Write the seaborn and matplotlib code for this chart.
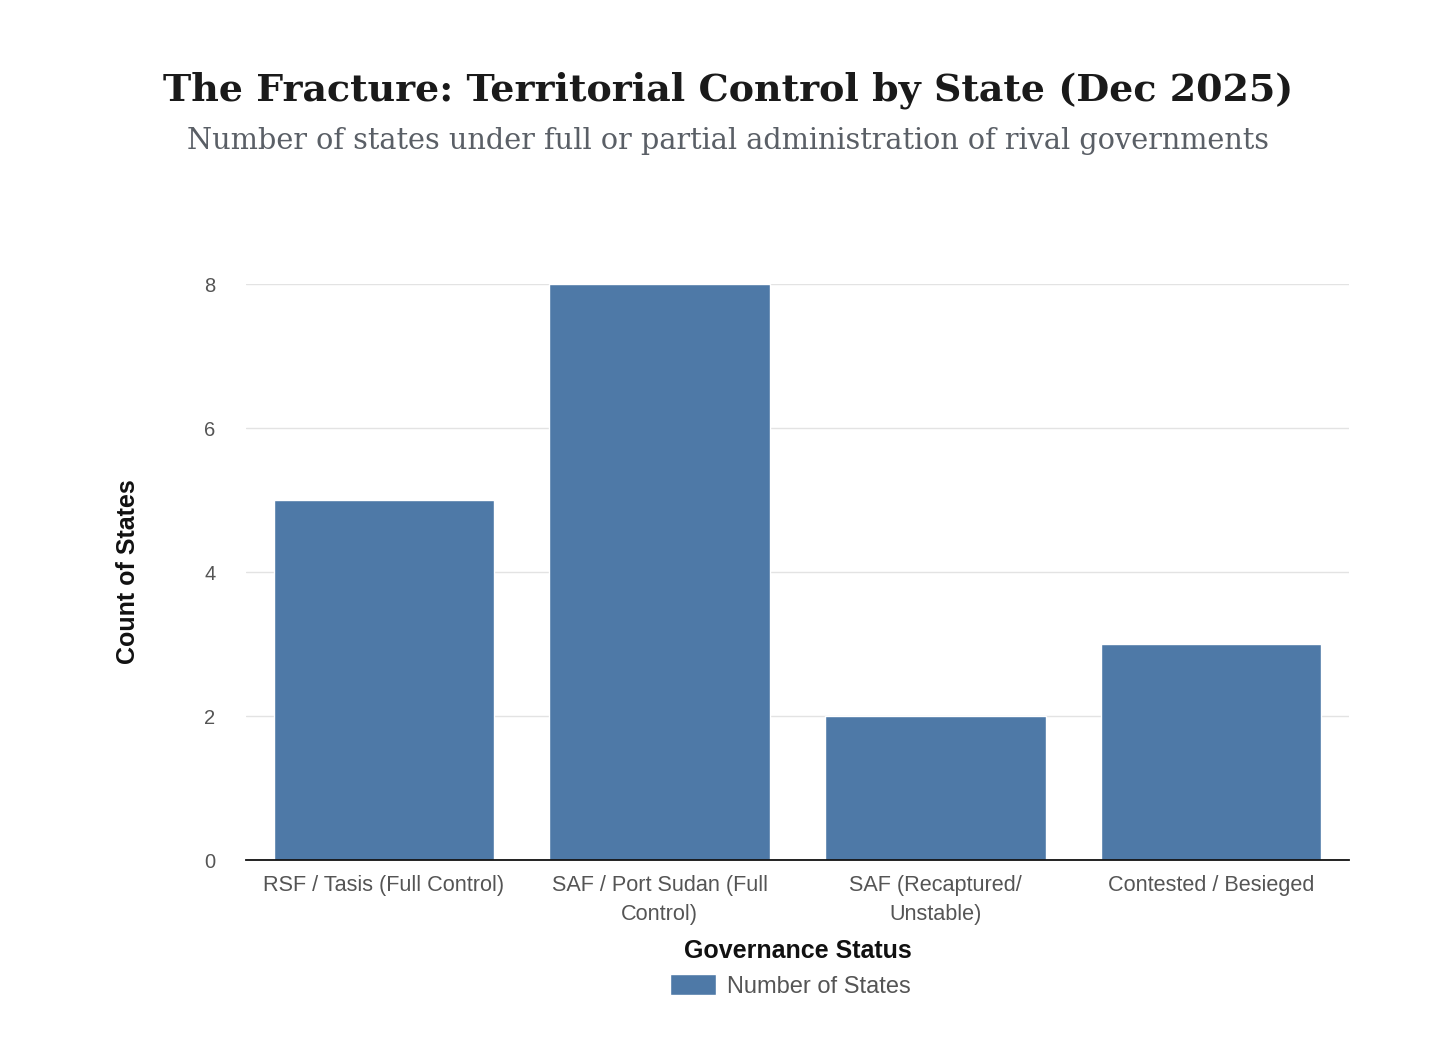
import matplotlib

matplotlib.use("Agg")
import matplotlib.pyplot as plt
import pandas as pd
import seaborn as sns

# chart data
categories = [
    "RSF / Tasis (Full Control)",
    "SAF / Port Sudan (Full\nControl)",
    "SAF (Recaptured/\nUnstable)",
    "Contested / Besieged",
]
state_counts = [5, 8, 2, 3]
y_ticks = [0, 2, 4, 6, 8]

BAR_COLOR = "#4e79a7"
W, H = 1456, 1048

df = pd.DataFrame({"Governance Status": categories, "Number of States": state_counts})

sns.set_theme(style="white")
plt.rcParams["font.family"] = ["Liberation Sans", "DejaVu Sans"]

fig = plt.figure(figsize=(W / 100, H / 100), dpi=100)
ax = fig.add_axes([246 / W, 1 - 860 / H, (1349 - 246) / W, (860 - 284) / H])

sns.barplot(
    data=df,
    x="Governance Status",
    y="Number of States",
    color=BAR_COLOR,
    width=0.8,
    saturation=1,
    ax=ax,
    label="Number of States",
)

ax.set_ylim(0, 8)
ax.set_yticks(y_ticks)
ax.set_xlim(-0.5, len(categories) - 0.5)
ax.yaxis.grid(True, color="#e3e3e3", linewidth=1)
ax.set_axisbelow(True)
for side in ["left", "right", "top"]:
    ax.spines[side].set_visible(False)
ax.spines["bottom"].set_color("#111111")
ax.spines["bottom"].set_linewidth(1.3)
ax.tick_params(axis="both", length=0, labelcolor="#555555")
ax.tick_params(axis="x", labelsize=15.6, pad=11)
ax.tick_params(axis="y", labelsize=14.5, pad=22)

ax.set_ylabel("Count of States", fontsize=18, fontweight="bold", color="#111111")
ax.yaxis.set_label_coords(-0.096, 0.5)
ax.set_xlabel("Governance Status", fontsize=18, fontweight="bold", color="#111111")
ax.xaxis.set_label_coords(0.5, -0.137)

ax.legend(
    loc="center",
    bbox_to_anchor=(790 / W, 1 - 986 / H),
    bbox_transform=fig.transFigure,
    frameon=False,
    fontsize=17,
    labelcolor="#555555",
    handlelength=1.95,
    handleheight=0.95,
    handletextpad=0.47,
)

fig.text(
    0.5, 1 - 90 / H,
    "The Fracture: Territorial Control by State (Dec 2025)",
    ha="center", va="center", fontsize=27.4, fontweight="bold",
    family=["DejaVu Serif"], color="#1a1a1a",
)
fig.text(
    0.5, 1 - 141 / H,
    "Number of states under full or partial administration of rival governments",
    ha="center", va="center", fontsize=20.7,
    family=["DejaVu Serif"], color="#5a5f66",
)

# wrapped category labels need wider line spacing
fig.canvas.draw()
for lbl in ax.get_xticklabels():
    lbl.set_linespacing(1.5)

fig.savefig("out.png", dpi=100, facecolor="white")
